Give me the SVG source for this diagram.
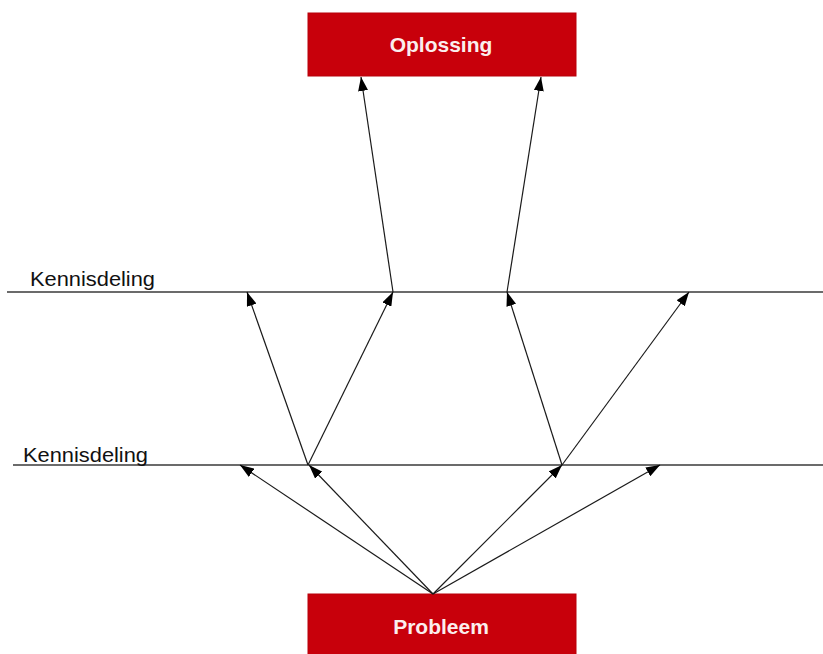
<svg xmlns="http://www.w3.org/2000/svg" width="823" height="654" viewBox="0 0 823 654">
  <style>
    .box { fill: #c8000b; stroke: #b8000a; stroke-width: 1; }
    .boxlabel { font-family: "Liberation Sans", Arial, sans-serif; font-weight: bold; font-size: 21px; fill: #fbeeee; text-anchor: middle; }
    .level { stroke: #3a3a3a; stroke-width: 1.4; }
    .levellabel { font-family: "Liberation Sans", Arial, sans-serif; font-size: 20px; fill: #111111; }
    .edge { stroke: #1a1a1a; stroke-width: 1.2; fill: none; marker-end: url(#head); }
  </style>
  <defs>
    <marker id="head" viewBox="0 0 14 10" refX="14" refY="5" markerWidth="14" markerHeight="10" markerUnits="userSpaceOnUse" orient="auto">
      <path d="M0,0 L14,5 L0,10 Z" fill="#000000"/>
    </marker>
  </defs>

  <rect width="823" height="654" fill="#ffffff"/>

  <!-- knowledge-sharing levels -->
  <g id="level-top">
    <line class="level" x1="7" y1="292" x2="823" y2="292"/>
    <text class="levellabel" x="30" y="286" textLength="125" lengthAdjust="spacingAndGlyphs">Kennisdeling</text>
  </g>
  <g id="level-bottom">
    <line class="level" x1="13" y1="465" x2="823" y2="465"/>
    <text class="levellabel" x="23" y="462" textLength="125" lengthAdjust="spacingAndGlyphs">Kennisdeling</text>
  </g>

  <!-- end node -->
  <g id="oplossing">
    <rect class="box" x="308" y="13" width="268" height="63"/>
    <text class="boxlabel" x="441" y="52">Oplossing</text>
  </g>

  <!-- start node -->
  <g id="probleem">
    <rect class="box" x="308" y="594" width="268" height="64"/>
    <text class="boxlabel" x="441" y="634">Probleem</text>
  </g>

  <g id="connectors">
    <!-- from the problem up to the first level -->
    <line class="edge" x1="433" y1="594" x2="240" y2="465"/>
    <line class="edge" x1="433" y1="594" x2="309" y2="465"/>
    <line class="edge" x1="433" y1="594" x2="562" y2="465"/>
    <line class="edge" x1="433" y1="594" x2="660" y2="465"/>
    <!-- from the first level up to the second -->
    <line class="edge" x1="308" y1="465" x2="247" y2="292"/>
    <line class="edge" x1="308" y1="465" x2="393" y2="292"/>
    <line class="edge" x1="562" y1="465" x2="507" y2="292"/>
    <line class="edge" x1="562" y1="465" x2="689" y2="292"/>
    <!-- from the second level up to the solution -->
    <line class="edge" x1="393" y1="292" x2="361" y2="77"/>
    <line class="edge" x1="507" y1="292" x2="541" y2="77"/>
  </g>
</svg>
